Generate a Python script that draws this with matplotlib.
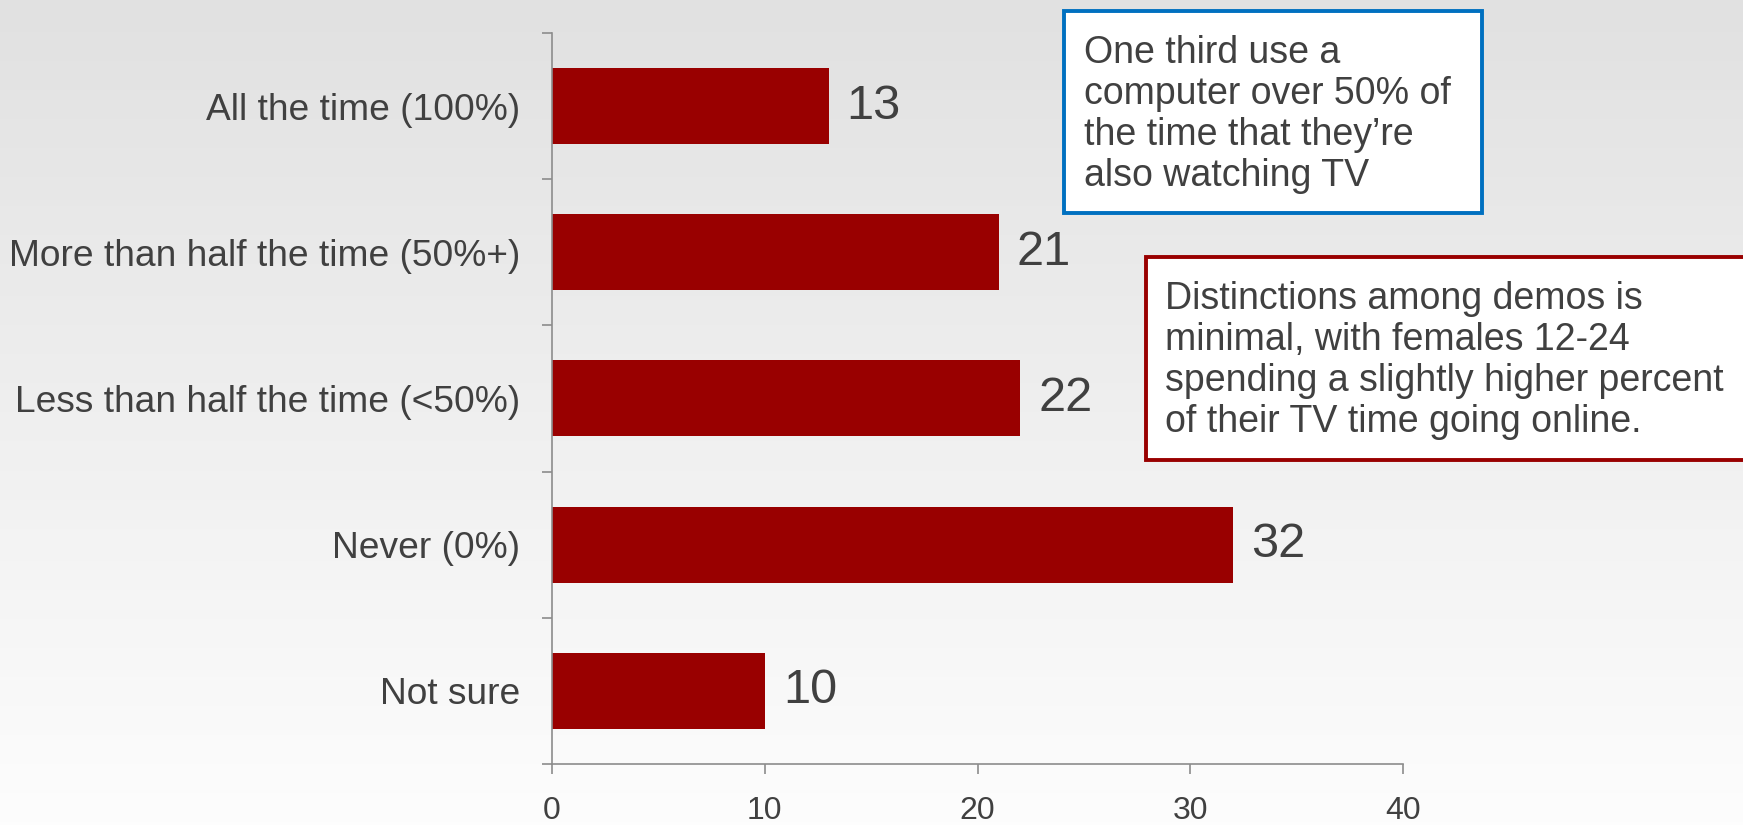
import numpy as np
import matplotlib
matplotlib.use("Agg")
import matplotlib.pyplot as plt
from matplotlib.patches import Rectangle

# chart data
categories = ["All the time (100%)", "More than half the time (50%+)",
              "Less than half the time (<50%)", "Never (0%)", "Not sure"]
values = [13, 21, 22, 32, 10]
x_ticks = [0, 10, 20, 30, 40]

note_blue = "One third use a\ncomputer over 50% of\nthe time that they\u2019re\nalso watching TV"
note_red = ("Distinctions among demos is\nminimal, with females 12-24\n"
            "spending a slightly higher percent\nof their TV time going online.")

plt.rcParams['font.family'] = ['Liberation Sans', 'DejaVu Sans']
text_col = "#404040"
bar_col = "#990000"
axis_col = "#8c8c8c"

fig = plt.figure(figsize=(17.43, 8.25), dpi=100)

# grey-to-white background gradient
bg = fig.add_axes([0, 0, 1, 1], zorder=-10)
grad = np.linspace(0, 1, 256).reshape(-1, 1)
top = np.array([225, 225, 225]) / 255
bottom = np.array([253, 253, 253]) / 255
img = top + (bottom - top) * grad[:, :, None]
bg.imshow(img, aspect='auto', extent=[0, 1, 0, 1])
bg.axis('off')

ax = fig.add_axes([0.3167, 0.074, 0.8050 - 0.3167, 0.886])
ax.patch.set_visible(False)

y = np.arange(len(categories))
ax.barh(y, values, height=0.52, color=bar_col)
for yi, v in zip(y, values):
    ax.text(v + 0.85, yi, str(v), va='center', ha='left', fontsize=35, color=text_col)

ax.set_xlim(0, 40)
ax.set_ylim(len(categories) - 0.5, -0.5)
ax.set_xticks(x_ticks)
ax.set_xticklabels([str(t) for t in x_ticks])
ax.set_yticks(y)
ax.set_yticklabels(categories)
ax.set_yticks(np.arange(len(categories) + 1) - 0.5, minor=True)

ax.tick_params(axis='y', which='major', length=0, pad=23, labelsize=26.7, labelcolor=text_col)
ax.tick_params(axis='y', which='minor', length=7, width=1.2, color=axis_col, direction='out')
ax.tick_params(axis='x', which='major', length=7, width=1.2, color=axis_col, direction='out',
               pad=16, labelsize=23, labelcolor=text_col)

for s in ['top', 'right']:
    ax.spines[s].set_visible(False)
for s in ['left', 'bottom']:
    ax.spines[s].set_color(axis_col)
    ax.spines[s].set_linewidth(1.2)

# callout boxes
fig.patches.append(Rectangle((0.6104, 0.7418), 0.2398, 0.2448, transform=fig.transFigure,
                             facecolor='white', edgecolor='#0070C0', linewidth=2.8, zorder=5))
fig.text(0.622, 0.861, note_blue, ha='left', va='center', fontsize=27,
         color=text_col, linespacing=1.18, zorder=6)

fig.patches.append(Rectangle((0.6575, 0.4424), 0.36, 0.246, transform=fig.transFigure,
                             facecolor='white', edgecolor='#990000', linewidth=2.8, zorder=5))
fig.text(0.6684, 0.563, note_red, ha='left', va='center', fontsize=27,
         color=text_col, linespacing=1.18, zorder=6)

fig.savefig("out.png", dpi=100)
